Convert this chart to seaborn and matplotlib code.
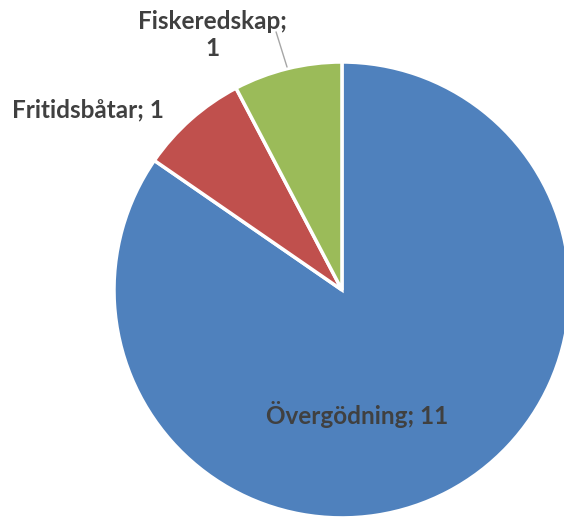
import matplotlib
matplotlib.use("Agg")
import matplotlib.pyplot as plt
import seaborn as sns

categories = ["Övergödning", "Fritidsbåtar", "Fiskeredskap"]
values = [11, 1, 1]
colors = sns.color_palette(["#4F81BD", "#C0504D", "#9BBB59"])

sns.set_style("white")
plt.rcParams["font.family"] = ["Lato", "DejaVu Sans"]

fig = plt.figure(figsize=(5.64, 5.17), dpi=100)
ax = fig.add_axes([0, 0, 1, 1])

wedges, _ = ax.pie(values, colors=colors, startangle=90, counterclock=False,
                   radius=1, wedgeprops=dict(edgecolor="white", linewidth=2.5))

ax.set_xlim(-1.5, 0.974)
ax.set_ylim(-0.996, 1.272)
ax.set_aspect("equal")
ax.axis("off")

txt = dict(fontsize=17.5, fontweight="bold", color="#404040", ha="center", va="center")
ax.text(0.066, -0.548, f"{categories[0]}; {values[0]}", **txt)
ax.text(-1.114, 0.789, f"{categories[1]}; {values[1]}", **txt)
ax.text(-0.570, 1.118, f"{categories[2]};\n{values[2]}", linespacing=1.2, **txt)
ax.plot([-0.241, -0.289], [0.978, 1.132], color="#A6A6A6", lw=1)

fig.savefig("out.png", dpi=100)
